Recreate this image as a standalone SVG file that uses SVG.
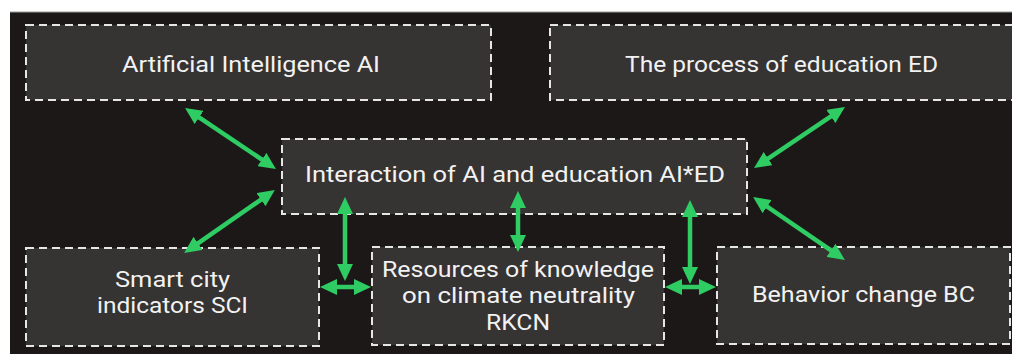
<svg xmlns="http://www.w3.org/2000/svg" width="1012" height="354" viewBox="0 0 1012 354">
  <defs>
    <marker id="ah" viewBox="0 0 17 16" markerWidth="17" markerHeight="16" refX="5" refY="8" markerUnits="userSpaceOnUse" orient="auto-start-reverse">
      <path d="M0,0 L17,8 L0,16 z" fill="#2ecc62"/>
    </marker>
    <style>
      .box { fill: #363333; stroke: #e6e6e6; stroke-width: 2; stroke-dasharray: 8 5; }
      .lbl { font-family: Roboto, "Open Sans", "Liberation Sans", sans-serif; font-size: 22px; fill: #f2f2f2; text-anchor: middle; }
      .conn line { stroke: #2ecc62; stroke-width: 4.5; marker-start: url(#ah); marker-end: url(#ah); }
    </style>
  </defs>
  <rect x="0" y="0" width="1012" height="354" fill="#ffffff"/>
  <rect x="10" y="12" width="1002" height="342" fill="#1c1818"/>
  <line x1="10" y1="12" x2="1012" y2="12" stroke="#9a9a9a" stroke-width="1"/>

  <g id="node-ai">
    <rect class="box" x="26" y="25" width="465" height="75"/>
    <text class="lbl" x="251" y="72" textLength="258" lengthAdjust="spacingAndGlyphs">Artificial Intelligence AI</text>
  </g>
  <g id="node-ed">
    <rect class="box" x="550" y="25" width="470" height="75"/>
    <text class="lbl" x="781.5" y="72" textLength="313" lengthAdjust="spacingAndGlyphs">The process of education ED</text>
  </g>
  <g id="node-aied">
    <rect class="box" x="282" y="139" width="465" height="75"/>
    <text class="lbl" x="515" y="182" textLength="420" lengthAdjust="spacingAndGlyphs">Interaction of AI and education AI*ED</text>
  </g>
  <g id="node-sci">
    <rect class="box" x="26" y="248" width="293" height="98"/>
    <text class="lbl" x="172.5" y="287" textLength="115" lengthAdjust="spacingAndGlyphs">Smart city</text>
    <text class="lbl" x="172.5" y="313" textLength="151" lengthAdjust="spacingAndGlyphs">indicators SCI</text>
  </g>
  <g id="node-rkcn">
    <rect class="box" x="372" y="247" width="292" height="98"/>
    <text class="lbl" x="518" y="277" textLength="272" lengthAdjust="spacingAndGlyphs">Resources of knowledge</text>
    <text class="lbl" x="518.5" y="303" textLength="233" lengthAdjust="spacingAndGlyphs">on climate neutrality</text>
    <text class="lbl" x="518" y="330" textLength="64" lengthAdjust="spacingAndGlyphs">RKCN</text>
  </g>
  <g id="node-bc">
    <rect class="box" x="717" y="247" width="293" height="97"/>
    <text class="lbl" x="863.5" y="302" textLength="223" lengthAdjust="spacingAndGlyphs">Behavior change BC</text>
  </g>

  <g id="connectors" class="conn">
    <line x1="195" y1="114.7" x2="266" y2="162.3"/>
    <line x1="194" y1="246.2" x2="265" y2="196.8"/>
    <line x1="345" y1="209" x2="345" y2="269"/>
    <line x1="332" y1="287" x2="359" y2="287"/>
    <line x1="518" y1="203" x2="518" y2="240"/>
    <line x1="690" y1="212" x2="690" y2="272"/>
    <line x1="677" y1="287" x2="704" y2="287"/>
    <line x1="835" y1="113.7" x2="764" y2="161.3"/>
    <line x1="763" y1="203.8" x2="835" y2="253.2"/>
  </g>
</svg>
